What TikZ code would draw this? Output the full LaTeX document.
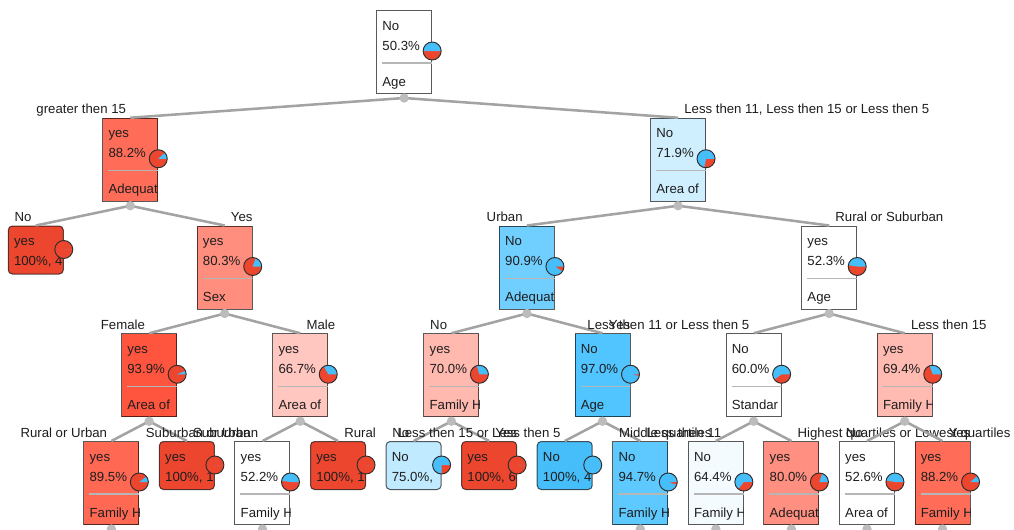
\documentclass[tikz,border=0pt]{standalone}
\usepackage{fontspec}
\setmainfont{Liberation Sans}
\usetikzlibrary{positioning}

\definecolor{clsno}{RGB}{70,190,250}
\definecolor{clsyes}{RGB}{237,70,47}
\definecolor{textcol}{RGB}{30,30,30}
\definecolor{edgegray}{RGB}{163,163,163}
\definecolor{dotgray}{RGB}{188,188,188}
\definecolor{sepgray}{RGB}{182,182,182}
\definecolor{piecol}{RGB}{45,45,45}
% shades of the two classes
\definecolor{yesA}{RGB}{255,109,89}
\definecolor{yesB}{RGB}{255,142,126}
\definecolor{yesC}{RGB}{255,85,62}
\definecolor{yesD}{RGB}{255,199,191}
\definecolor{yesE}{RGB}{255,185,175}
\definecolor{yesF}{RGB}{255,187,178}
\definecolor{yesG}{RGB}{255,104,83}
\definecolor{yesH}{RGB}{255,143,128}
\definecolor{noA}{RGB}{207,239,255}
\definecolor{noB}{RGB}{112,207,255}
\definecolor{noC}{RGB}{81,197,255}
\definecolor{noD}{RGB}{191,234,255}
\definecolor{noE}{RGB}{93,201,255}
\definecolor{noF}{RGB}{244,251,255}

\newcommand{\nodefont}{\fontsize{9.9}{12}\selectfont}

% pie of the class shares: anchor, drop below the top, share of No
\newcommand{\classpie}[3]{%
  \fill[clsyes] ([shift={(0,#2)}]#1) circle (6.75pt);
  \fill[clsno] ([shift={(0,#2)}]#1) -- ++(6.75pt,0pt)
    arc[start angle=0, end angle={360*#3}, radius=6.75pt] -- cycle;
  \draw[pieline] ([shift={(0,#2)}]#1) circle (6.75pt);
}

% split: name, column, level, fill, class, share, attribute, share of No
\newcommand{\splitnode}[8]{%
  \node[splitbox, fill=#4] (#1) at ({35.8+75.56*#2},{10+107.75*#3}) {};
  \begin{scope}
    \clip (#1.south west) rectangle (#1.north east);
    \node[txt] at ([shift={(6,20)}]#1.north west) {#5};
    \node[txt] at ([shift={(6,40)}]#1.north west) {#6};
    \draw[sepline] ([shift={(6,53)}]#1.north west) -- ([shift={(0,53)}]#1.north east);
    \node[txt] at ([shift={(6,76)}]#1.north west) {#7};
  \end{scope}
  \classpie{#1.north east}{41}{#8}
  \coordinate (#1-dot) at ([shift={(0,4)}]#1.south);
}

% leaf: name, column, level, fill, class, share, share of No
\newcommand{\leafnode}[7]{%
  \node[leafbox, fill=#4] (#1) at ({35.8+75.56*#2},{10+107.75*#3}) {};
  \begin{scope}
    \clip (#1.south west) rectangle (#1.north east);
    \node[txt] at ([shift={(6,20)}]#1.north west) {#5};
    \node[txt] at ([shift={(6,40)}]#1.north west) {#6};
  \end{scope}
  \classpie{#1.north east}{24}{#7}
}

\begin{document}
\begin{tikzpicture}[x=0.75pt, y=-0.75pt,
    splitbox/.style={rectangle, draw=black, draw opacity=0.65, line width=0.75pt,
      minimum width=41.25pt, minimum height=62.25pt, inner sep=0pt, anchor=north},
    leafbox/.style={splitbox, minimum height=36pt, rounded corners=3pt},
    txt/.style={font=\nodefont, text=textcol, inner sep=0pt, anchor=base west},
    sepline/.style={draw=sepgray, line width=1.1pt},
    pieline/.style={draw=piecol, line width=0.7pt},
    branchline/.style={draw=edgegray, line width=1.9pt},
    leftlbl/.style={txt, anchor=base east, xshift=-2.25pt, yshift=3pt},
    rightlbl/.style={txt, anchor=base west, xshift=3.75pt, yshift=3pt}]
  \useasboundingbox (0,0) rectangle (1014,529);
  \clip (0,0) rectangle (1014,529);
  \fill[white] (0,0) rectangle (1014,529);

  % level 0 and 1
  \splitnode{root}{4.875}{0}{white}{No}{50.3\%}{Age}{0.503}
  \splitnode{L}{1.25}{1}{yesA}{yes}{88.2\%}{Adequat}{0.118}
  \splitnode{R}{8.5}{1}{noA}{No}{71.9\%}{Area of}{0.719}
  % level 2
  \leafnode{LL}{0}{2}{clsyes}{yes}{100\%, 4}{0}
  \splitnode{LR}{2.5}{2}{yesB}{yes}{80.3\%}{Sex}{0.197}
  \splitnode{RL}{6.5}{2}{noB}{No}{90.9\%}{Adequat}{0.909}
  \splitnode{RR}{10.5}{2}{white}{yes}{52.3\%}{Age}{0.477}
  % level 3
  \splitnode{LRL}{1.5}{3}{yesC}{yes}{93.9\%}{Area of}{0.061}
  \splitnode{LRR}{3.5}{3}{yesD}{yes}{66.7\%}{Area of}{0.333}
  \splitnode{RLL}{5.5}{3}{yesE}{yes}{70.0\%}{Family H}{0.3}
  \splitnode{RLR}{7.5}{3}{noC}{No}{97.0\%}{Age}{0.97}
  \splitnode{RRL}{9.5}{3}{white}{No}{60.0\%}{Standar}{0.6}
  \splitnode{RRR}{11.5}{3}{yesF}{yes}{69.4\%}{Family H}{0.306}
  % level 4
  \splitnode{LRLL}{1}{4}{yesG}{yes}{89.5\%}{Family H}{0.105}
  \leafnode{LRLR}{2}{4}{clsyes}{yes}{100\%, 1}{0}
  \splitnode{LRRL}{3}{4}{white}{yes}{52.2\%}{Family H}{0.478}
  \leafnode{LRRR}{4}{4}{clsyes}{yes}{100\%, 1}{0}
  \leafnode{RLLL}{5}{4}{noD}{No}{75.0\%,}{0.75}
  \leafnode{RLLR}{6}{4}{clsyes}{yes}{100\%, 6}{0}
  \leafnode{RLRL}{7}{4}{clsno}{No}{100\%, 4}{1}
  \splitnode{RLRR}{8}{4}{noE}{No}{94.7\%}{Family H}{0.947}
  \splitnode{RRLL}{9}{4}{noF}{No}{64.4\%}{Family H}{0.644}
  \splitnode{RRLR}{10}{4}{yesH}{yes}{80.0\%}{Adequat}{0.2}
  \splitnode{RRRL}{11}{4}{white}{yes}{52.6\%}{Area of}{0.474}
  \splitnode{RRRR}{12}{4}{yesA}{yes}{88.2\%}{Family H}{0.118}

  % branches with their conditions
  \draw[branchline]
    (root-dot) edge node[pos=1, leftlbl] {greater then 15} (L.north)
    (root-dot) edge node[pos=1, rightlbl] {Less then 11, Less then 15 or Less then 5} (R.north)
    (L-dot) edge node[pos=1, leftlbl] {No} (LL.north)
    (L-dot) edge node[pos=1, rightlbl] {Yes} (LR.north)
    (R-dot) edge node[pos=1, leftlbl] {Urban} (RL.north)
    (R-dot) edge node[pos=1, rightlbl] {Rural or Suburban} (RR.north)
    (LR-dot) edge node[pos=1, leftlbl] {Female} (LRL.north)
    (LR-dot) edge node[pos=1, rightlbl] {Male} (LRR.north)
    (RL-dot) edge node[pos=1, leftlbl] {No} (RLL.north)
    (RL-dot) edge node[pos=1, rightlbl] {Yes} (RLR.north)
    (RR-dot) edge node[pos=1, leftlbl] {Less then 11 or Less then 5} (RRL.north)
    (RR-dot) edge node[pos=1, rightlbl] {Less then 15} (RRR.north)
    (LRL-dot) edge node[pos=1, leftlbl] {Rural or Urban} (LRLL.north)
    (LRL-dot) edge node[pos=1, rightlbl] {Suburban} (LRLR.north)
    (LRR-dot) edge node[pos=1, leftlbl] {Suburban or Urban} (LRRL.north)
    (LRR-dot) edge node[pos=1, rightlbl] {Rural} (LRRR.north)
    (RLL-dot) edge node[pos=1, leftlbl] {No} (RLLL.north)
    (RLL-dot) edge node[pos=1, rightlbl] {Yes} (RLLR.north)
    (RLR-dot) edge node[pos=1, leftlbl] {Less then 15 or Less then 5} (RLRL.north)
    (RLR-dot) edge node[pos=1, rightlbl] {Less then 11} (RLRR.north)
    (RRL-dot) edge node[pos=1, leftlbl] {Middle quartiles} (RRLL.north)
    (RRL-dot) edge node[pos=1, rightlbl] {Highest quartiles or Lowest quartiles} (RRLR.north)
    (RRR-dot) edge node[pos=1, leftlbl] {No} (RRRL.north)
    (RRR-dot) edge node[pos=1, rightlbl] {Yes} (RRRR.north);

  \foreach \n in {root,L,R,LR,RL,RR,LRL,LRR,RLL,RLR,RRL,RRR,LRLL,LRRL,RLRR,RRLL,RRLR,RRRL,RRRR}
    \fill[dotgray] (\n-dot) circle (3.5pt);
\end{tikzpicture}
\end{document}
